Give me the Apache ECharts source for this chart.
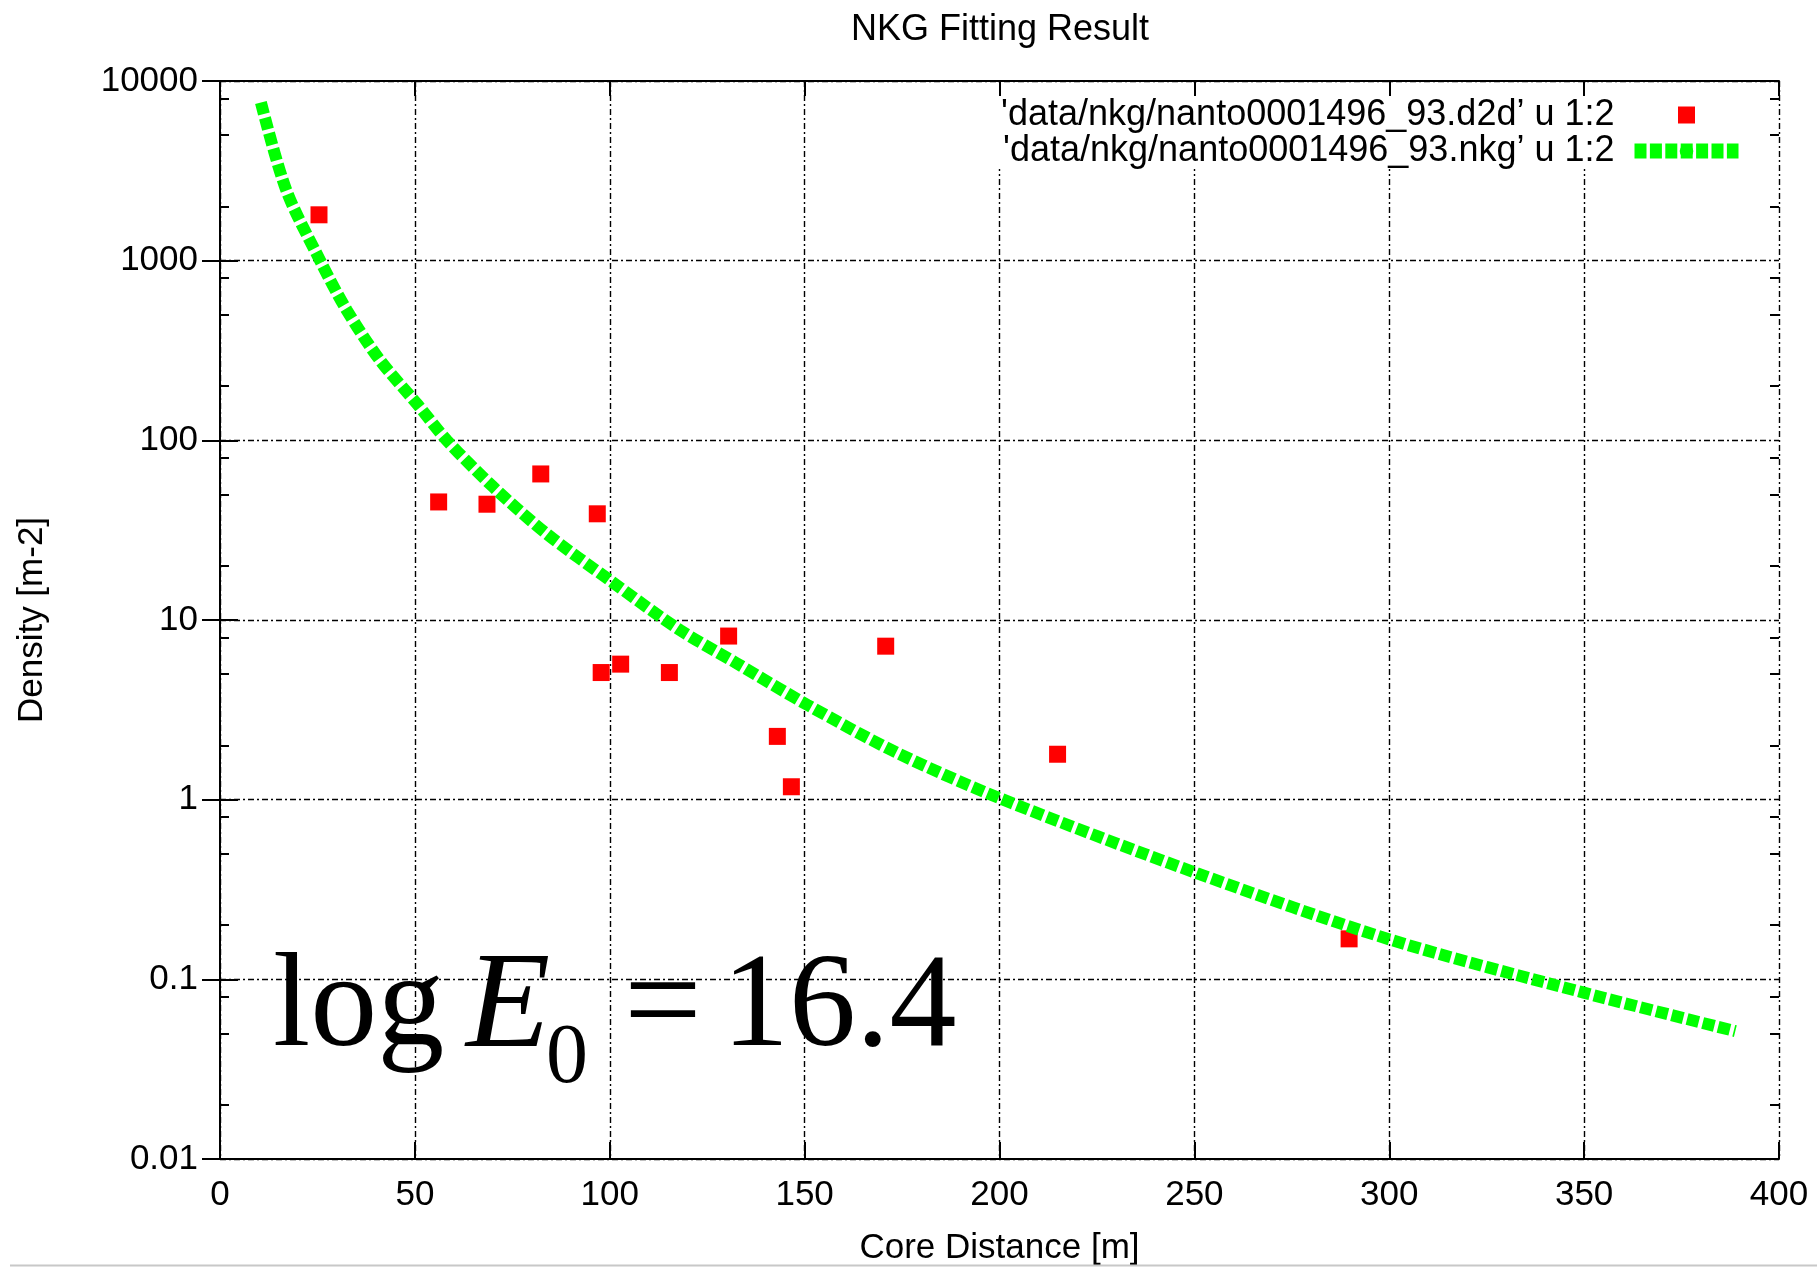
<!DOCTYPE html>
<html>
<head>
<meta charset="utf-8">
<title>NKG Fitting Result</title>
<script src="https://cdn.jsdelivr.net/npm/echarts@6/dist/echarts.min.js"></script>
<style>
  html, body { margin: 0; padding: 0; background: #fff; }
  #chart { width: 1817px; height: 1267px; }
</style>
</head>
<body>
<div id="chart"></div>
<script>
// measured densities (red squares)
const measuredDistance = [25.4, 56.1, 68.5, 82.3, 96.8, 97.8, 102.8, 115.3, 130.5, 143.0, 146.6, 170.8, 214.9, 289.7];
const measuredDensity = [1800, 45.4, 44.1, 65, 39, 5.1, 5.68, 5.1, 8.14, 2.25, 1.18, 7.15, 1.79, 0.168];

// NKG fit curve
const fitDistance = [10.5, 17, 25.7, 32.5, 41.0, 50.5, 58.2, 70.1, 83.8, 100.1, 118.0, 132.6, 150.7, 174.0, 200.0, 250.6, 300.4, 349.9, 388.8];
const fitDensity = [7600, 2470, 1000, 531, 280, 160, 100, 55, 30.2, 16.6, 8.8, 5.74, 3.37, 1.81, 1.02, 0.39, 0.166, 0.0843, 0.0515];

const yTickLabels = ['0.01', '0.1', '1', '10', '100', '1000', '10000'];
const yMinorTicks = [0.02, 0.05, 0.08, 0.2, 0.5, 0.8, 2, 5, 8, 20, 50, 80, 200, 500, 800, 2000, 5000, 8000];
const legendNames = [
  "'data/nkg/nanto0001496_93.d2d\u2019 u 1:2",
  "'data/nkg/nanto0001496_93.nkg\u2019 u 1:2"
];

const chart = echarts.init(document.getElementById('chart'));
const sans = "'Liberation Sans', Arial, sans-serif";
const serif = "'Liberation Serif', 'Times New Roman', serif";
const gridDash = [6, 3, 2, 3];

// one log axis on each side; the extra ones only carry the 2/5/8 minor ticks
function densityAxis(position, major, extra) {
  return Object.assign({
    type: 'log',
    logBase: 10,
    min: 0.01,
    max: 10000,
    position: position,
    axisLine: { show: major, lineStyle: { color: '#000', width: 2 } },
    axisTick: {
      show: true,
      inside: true,
      length: major ? 18 : 9,
      lineStyle: { color: '#000', width: 2 }
    },
    axisLabel: { show: false },
    splitLine: { show: false }
  }, extra);
}

const minorTick = { show: true, inside: true, length: 9, customValues: yMinorTicks, lineStyle: { color: '#000', width: 2 } };

chart.setOption({
  animation: false,
  backgroundColor: '#fff',
  grid: { left: 220, top: 81, width: 1559, height: 1078, containLabel: false, outerBoundsMode: 'none' },
  legend: {
    orient: 'vertical',
    right: 43,
    top: 83,
    align: 'right',
    itemWidth: 104,
    itemHeight: 17,
    itemGap: 0,
    padding: [14, 28, 0, 8],
    backgroundColor: '#fff',
    selectedMode: false,
    textStyle: { fontSize: 36, fontFamily: sans, color: '#000', lineHeight: 36, padding: [0, 15, 0, 0] },
    lineStyle: { width: 15, type: [12, 3.4] },
    data: [
      { name: legendNames[0], icon: 'path://M0 0H10V10H0Z' },
      { name: legendNames[1] }
    ]
  },
  xAxis: [
    {
      type: 'value',
      min: 0,
      max: 400,
      interval: 50,
      position: 'bottom',
      name: 'Core Distance [m]',
      nameLocation: 'middle',
      nameGap: 72,
      nameTextStyle: { fontSize: 35, fontFamily: sans, color: '#000' },
      axisLine: { lineStyle: { color: '#000', width: 2 } },
      axisTick: { inside: true, length: 17, lineStyle: { color: '#000', width: 2 } },
      axisLabel: { fontSize: 35, fontFamily: sans, color: '#000', margin: 19 },
      splitLine: { show: true, lineStyle: { color: '#000', width: 1.4, type: gridDash } }
    },
    {
      type: 'value',
      min: 0,
      max: 400,
      interval: 50,
      position: 'top',
      z: 10,
      axisLine: { lineStyle: { color: '#000', width: 2 } },
      axisTick: { inside: true, length: 15, lineStyle: { color: '#000', width: 2 } },
      axisLabel: { show: false },
      splitLine: { show: false }
    }
  ],
  yAxis: [
    densityAxis('left', true, {
      name: 'Density [m-2]',
      nameLocation: 'middle',
      nameGap: 170,
      nameTextStyle: { fontSize: 35, fontFamily: sans, color: '#000' },
      axisLabel: {
        show: true,
        fontSize: 35,
        fontFamily: sans,
        color: '#000',
        margin: 22,
        formatter: v => yTickLabels[Math.round(Math.log10(v)) + 2]
      },
      splitLine: { show: true, lineStyle: { color: '#000', width: 1.4, type: gridDash } }
    }),
    densityAxis('right', true, { z: 10 }),
    densityAxis('left', false, { axisTick: minorTick }),
    densityAxis('right', false, { z: 10, axisTick: minorTick })
  ],
  graphic: [
    {
      type: 'text', x: 1000, y: 30, z: 20,
      style: { text: 'NKG Fitting Result', fontSize: 36, fontFamily: sans, fill: '#000', align: 'center', verticalAlign: 'middle' }
    },
    {
      type: 'text', x: 273, y: 1010, z: 20,
      style: { text: 'log', fontSize: 134, fontFamily: serif, fill: '#000', align: 'left', verticalAlign: 'middle' }
    },
    {
      type: 'text', x: 466, y: 1010, z: 20,
      style: { text: 'E', fontSize: 138, fontStyle: 'italic', fontFamily: serif, fill: '#000', align: 'left', verticalAlign: 'middle' }
    },
    {
      type: 'text', x: 546, y: 1060, z: 20,
      style: { text: '0', fontSize: 84, fontFamily: serif, fill: '#000', align: 'left', verticalAlign: 'middle' }
    },
    {
      type: 'text', x: 624, y: 1010, z: 20,
      style: { text: '=', fontSize: 138, fontFamily: serif, fill: '#000', align: 'left', verticalAlign: 'middle' }
    },
    {
      type: 'text', x: 722, y: 1010, z: 20,
      style: { text: '16.4', fontSize: 134, fontFamily: serif, fill: '#000', align: 'left', verticalAlign: 'middle' }
    },
    {
      type: 'line', z: 20,
      shape: { x1: 10, y1: 1265.5, x2: 1817, y2: 1265.5 },
      style: { stroke: '#c8c8c8', lineWidth: 2 }
    }
  ],
  series: [
    {
      name: legendNames[0],
      type: 'scatter',
      xAxisIndex: 0,
      yAxisIndex: 0,
      symbol: 'rect',
      symbolSize: 17,
      itemStyle: { color: '#ff0000', opacity: 1 },
      emphasis: { disabled: true },
      data: measuredDistance.map((x, i) => [x, measuredDensity[i]])
    },
    {
      name: legendNames[1],
      type: 'line',
      xAxisIndex: 0,
      yAxisIndex: 0,
      symbol: 'none',
      showSymbol: false,
      smooth: 0.3,
      itemStyle: { color: '#00ff00' },
      lineStyle: { color: '#00ff00', width: 12, type: [12, 4] },
      emphasis: { disabled: true },
      data: fitDistance.map((x, i) => [x, fitDensity[i]])
    }
  ]
});
</script>
</body>
</html>
